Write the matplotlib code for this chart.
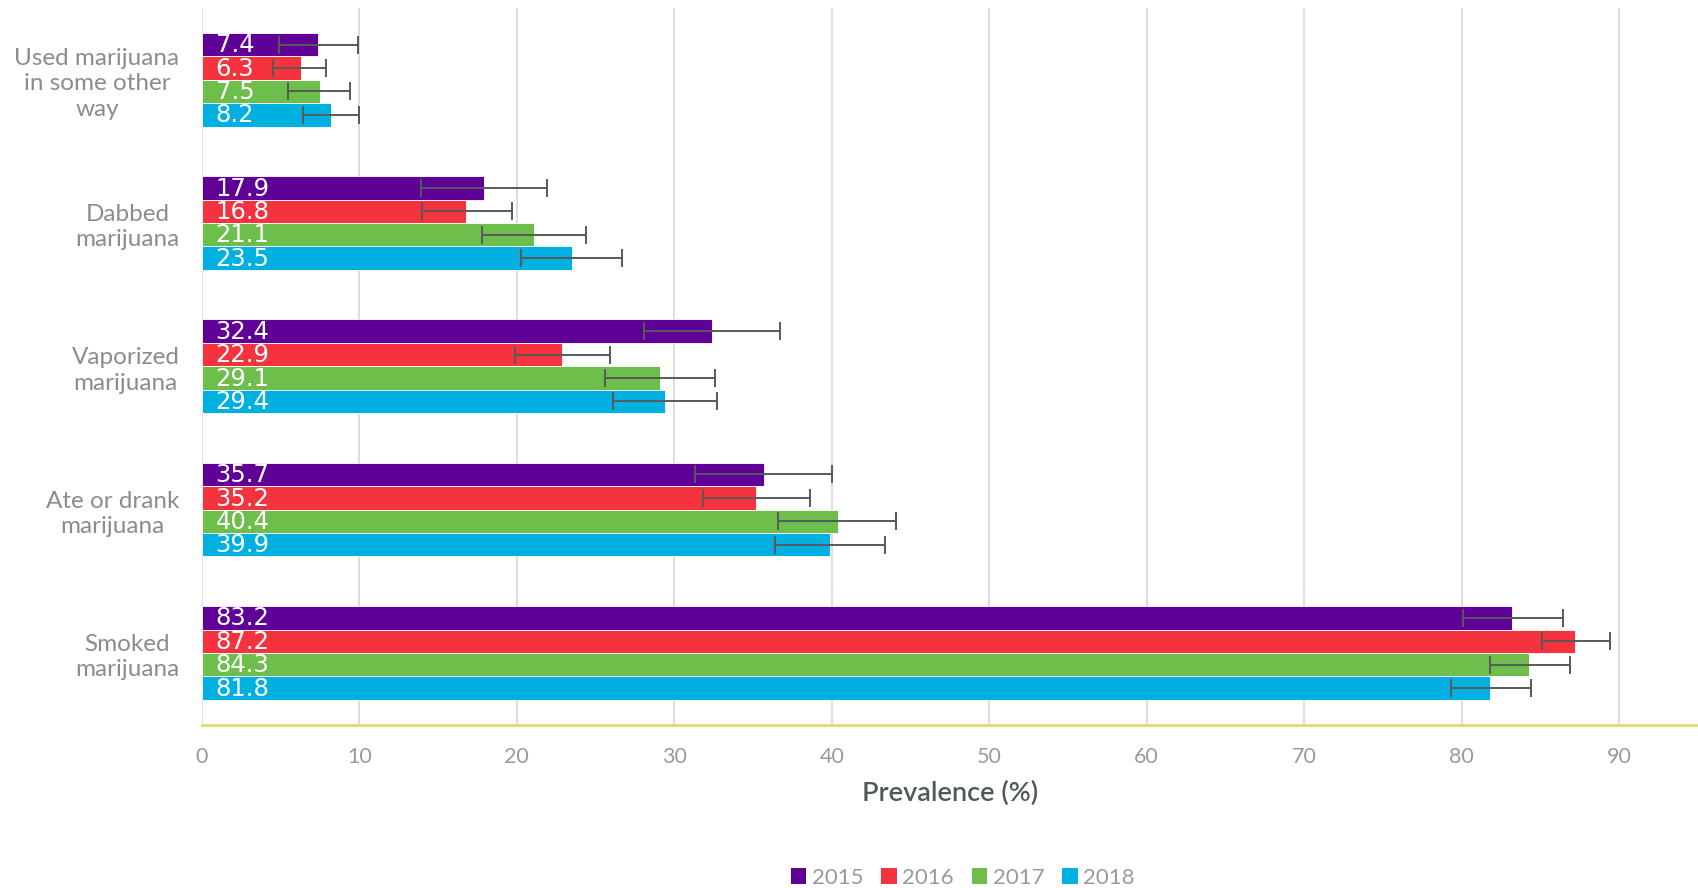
import numpy as np
import matplotlib
matplotlib.use("Agg")
import matplotlib.pyplot as plt
from matplotlib.patches import Patch

# Categories, top to bottom
categories = ["Used marijuana\nin some other\nway", "Dabbed\nmarijuana", "Vaporized\nmarijuana",
              "Ate or drank\nmarijuana", "Smoked\nmarijuana"]
years = ["2015", "2016", "2017", "2018"]
colors = ["#5F0096", "#F5333F", "#6DBE4B", "#00B0E0"]

# Prevalence (%) per year, same order as categories
v2015 = [7.4, 17.9, 32.4, 35.7, 83.2]
v2016 = [6.3, 16.8, 22.9, 35.2, 87.2]
v2017 = [7.5, 21.1, 29.1, 40.4, 84.3]
v2018 = [8.2, 23.5, 29.4, 39.9, 81.8]

# 95% CI lower / upper bounds
lo2015 = [4.9, 13.9, 28.1, 31.3, 80.1]
hi2015 = [9.9, 21.9, 36.7, 40.0, 86.4]
lo2016 = [4.5, 14.0, 19.9, 31.8, 85.1]
hi2016 = [7.9, 19.7, 25.9, 38.6, 89.4]
lo2017 = [5.5, 17.8, 25.6, 36.6, 81.8]
hi2017 = [9.4, 24.4, 32.6, 44.1, 86.9]
lo2018 = [6.4, 20.3, 26.1, 36.4, 79.3]
hi2018 = [10.0, 26.7, 32.7, 43.4, 84.4]

values = [v2015, v2016, v2017, v2018]
lows = [lo2015, lo2016, lo2017, lo2018]
highs = [hi2015, hi2016, hi2017, hi2018]

LABEL_FONT = ["Lato", "DejaVu Sans"]
NUM_FONT = ["Liberation Sans Narrow", "DejaVu Sans"]

fig = plt.figure(figsize=(16.98, 8.88), dpi=100)
ax = fig.add_axes([0.1188, 0.184, 0.8812, 0.807])

n = len(categories)
centers = np.arange(n)[::-1]
h = 0.1635
offsets = [1.5 * h, 0.5 * h, -0.5 * h, -1.5 * h]

for i, yr in enumerate(years):
    vals = np.array(values[i])
    ys = centers + offsets[i]
    err = [vals - np.array(lows[i]), np.array(highs[i]) - vals]
    ax.barh(ys, vals, height=h, color=colors[i], edgecolor="white", linewidth=0.6,
            zorder=2, label=yr)
    ax.errorbar(vals, ys, xerr=err, fmt="none", ecolor="#595959", elinewidth=1.4,
                capsize=6.5, capthick=1.4, zorder=3)
    for v, y in zip(vals, ys):
        ax.annotate(f"{v:.1f}", xy=(0, y), xytext=(10, -0.5), textcoords="offset points",
                    ha="left", va="center", color="white", fontsize=17.5, family=NUM_FONT,
                    zorder=4)

ax.set_xlim(0, 95)
ax.set_ylim(-0.5, 4.5)
ax.set_xticks(np.arange(0, 91, 10))
ax.set_yticks(centers)
ax.set_yticklabels(categories, family=LABEL_FONT, fontsize=17.5, color="#8C8C8C",
                   linespacing=1.25)
for lbl in ax.get_yticklabels():
    lbl.set_multialignment("center")
for lbl in ax.get_xticklabels():
    lbl.set_family(LABEL_FONT)
    lbl.set_fontsize(15.5)
    lbl.set_color("#9A9A9A")
ax.tick_params(axis="both", length=0)
ax.tick_params(axis="y", pad=16)
ax.tick_params(axis="x", pad=16)

ax.xaxis.grid(True, color="#DDDDDD", linewidth=1.4, zorder=0)
ax.set_axisbelow(True)
for side in ["top", "right", "left"]:
    ax.spines[side].set_visible(False)
ax.spines["bottom"].set_color("#E3D874")
ax.spines["bottom"].set_linewidth(2)

ax.set_xlabel("Prevalence (%)", family=LABEL_FONT, fontsize=19.5, color="#505858",
              fontweight="semibold", labelpad=10)

handles = [Patch(facecolor=c, label=y) for c, y in zip(colors, years)]
fig.legend(handles=handles, loc="lower center", bbox_to_anchor=(0.567, -0.022), ncol=4,
           frameon=False, prop={"family": LABEL_FONT, "size": 16}, labelcolor="#9A9A9A",
           handlelength=0.7, handleheight=0.7, handletextpad=0.25, columnspacing=0.8)

fig.savefig("out.png", dpi=100)
